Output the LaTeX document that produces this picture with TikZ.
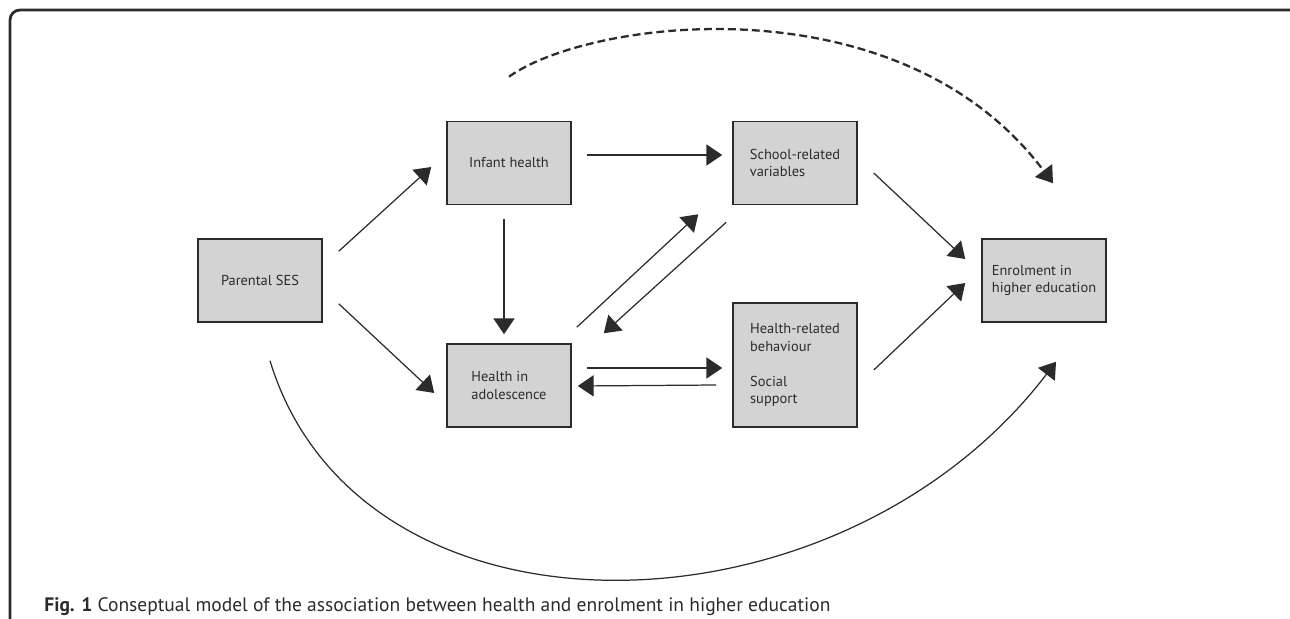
\documentclass[tikz,border=0pt]{standalone}
\usepackage{fontspec}
\setmainfont{PT Sans}
\usetikzlibrary{arrows.meta}
\definecolor{boxgray}{HTML}{D3D3D3}
\definecolor{ink}{HTML}{2B2B2B}

\begin{document}
\begin{tikzpicture}[x=0.02cm, y=-0.02cm,
  box/.style={draw=ink, line width=0.9pt, fill=boxgray, minimum width=2.48cm, minimum height=1.66cm, align=left, text=ink, font=\fontsize{8.2}{9.9}\selectfont},
  arr/.style={line width=0.7pt, draw=ink, -{Triangle[length=9pt,width=12pt]}},
  dasharr/.style={arr, line width=1.3pt, dash pattern=on 4.5pt off 2.3pt}
]
  \useasboundingbox (0,0) rectangle (1290,618);
  % frame and caption
  \draw[line width=1.6pt, ink, rounded corners=5.7pt] (10,640) -- (10,10) -- (1300,10) -- (1300,640);
  \node[anchor=base west, inner sep=0, text=ink, font=\fontsize{11.1}{13}\selectfont] (cap) at (44,611)
    {\textbf{Fig. 1} Conseptual model of the association between health and enrolment in higher education};

  \node[box] (parental) at (260,280.5) {Parental SES};
  \node[box] (infant) at (509,163) {Infant health};
  \node[box] (adol) at (509,385.5) {Health in\\adolescence};
  \node[box] (school) at (795,163) {School-related\\variables};
  \node[box, minimum height=2.48cm] (behav) at (795,365) {Health-related\\behaviour\\[9.9pt]Social\\support};
  \node[box] (enrol) at (1044,280.5) {Enrolment in\\higher education};

  \draw[arr] ([shift={(16,13)}]parental.north east) -- ([shift={(-15,4)}]infant.west);
  \draw[arr] ([shift={(16,-19)}]parental.south east) -- ([shift={(-12,7.5)}]adol.west);
  \draw[arr] ([shift={(15,-8)}]infant.east) -- ([shift={(-10,-8)}]school.west);
  \draw[arr] ([shift={(-5,14)}]infant.south) -- ([shift={(-5,-9)}]adol.north);
  \draw[arr] ([shift={(5,-16)}]adol.north east) -- ([shift={(-34,9)}]school.south west);
  \draw[arr] ([shift={(-6,17)}]school.south west) -- ([shift={(32,-10)}]adol.north east);
  \draw[arr] ([shift={(15,-17.5)}]adol.east) -- ([shift={(-10,3)}]behav.west);
  \draw[arr] ([shift={(-16,20)}]behav.west) -- ([shift={(6,0.5)}]adol.east);
  \draw[arr] ([shift={(16,10)}]school.east) -- ([shift={(-16,-21.5)}]enrol.west);
  \draw[arr] ([shift={(16,5)}]behav.east) -- ([shift={(-16,2.5)}]enrol.west);

  % direct paths to enrolment
  \draw[arr] ([shift={(10,38)}]parental.south) .. controls +(90,295) and +(-218,285) .. ([shift={(12,39)}]enrol.south);
  \draw[dasharr] ([shift={(0,-44)}]infant.north) .. controls +(81,-58) and +(-153,-204) .. ([shift={(9,-55)}]enrol.north);
\end{tikzpicture}
\end{document}
